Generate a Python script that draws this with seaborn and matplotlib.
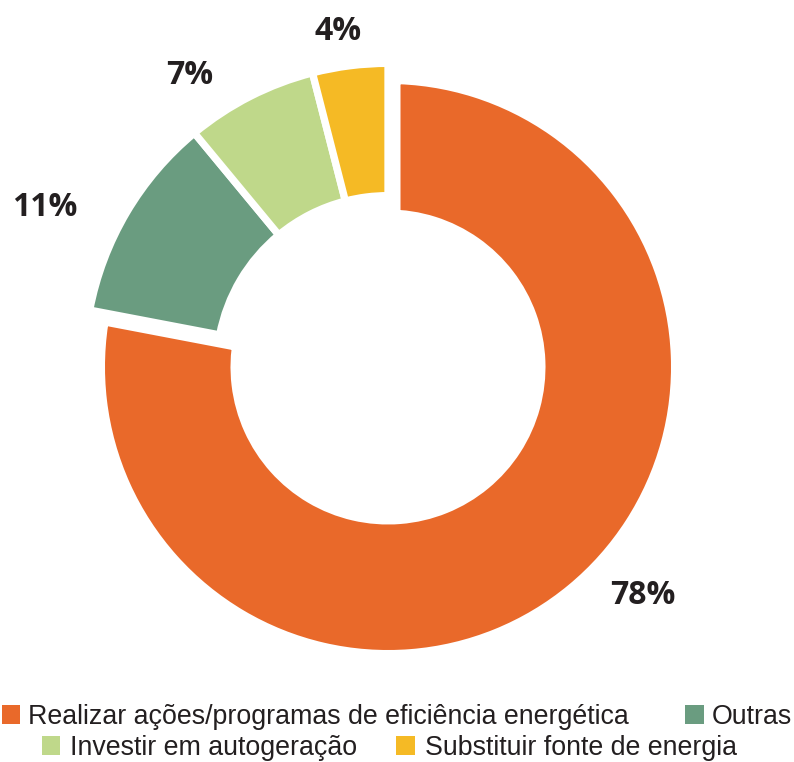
import matplotlib
matplotlib.use("Agg")
import matplotlib.pyplot as plt
from matplotlib.patches import Patch
import seaborn as sns

# ---- data ----
categories = ["Realizar ações/programas de eficiência energética", "Outras",
              "Investir em autogeração", "Substituir fonte de energia"]
values = [78, 11, 7, 4]
colors = ["#E9692A", "#6A9C80", "#BFD88A", "#F5BA25"]
pct_labels = [f"{v}%" for v in values]

sns.set_theme(style="white")
plt.rcParams["font.family"] = ["Liberation Sans", "DejaVu Sans"]

W, H = 794, 762
fig = plt.figure(figsize=(W / 100, H / 100), dpi=100)
ax = fig.add_axes([0, 0, 1, 1])

cx, cy = 388, H - 367
px2pt = 0.72
big_lw, small_lw = 25, 7.3  # px

# main slice ring
w1, _ = ax.pie(values, colors=colors, startangle=90, counterclock=False,
               center=(cx, cy), radius=283 + big_lw / 2,
               wedgeprops=dict(width=(283 - 157.5) + big_lw, edgecolor="white",
                               linewidth=big_lw * px2pt), frame=True)
for i, wd in enumerate(w1):
    if i != 0:
        wd.set_visible(False)

# smaller slices, pushed outwards
w2, _ = ax.pie(values, colors=colors, startangle=90, counterclock=False,
               center=(cx, cy), radius=300 + small_lw / 2,
               wedgeprops=dict(width=(300 - 175) + small_lw, edgecolor="white",
                               linewidth=small_lw * px2pt), frame=True)
w2[0].set_visible(False)
ax.set_xlim(0, W)
ax.set_ylim(0, H)
ax.set_aspect("equal")
ax.axis("off")

# percentage labels
label_pos = [(643, 596), (45, 208), (190, 75), (338, 32)]
for (x, y), t in zip(label_pos, pct_labels):
    ax.text(x, H - y, t, ha="center", va="center", fontsize=23,
            fontweight="bold", color="#231F20", family=["Open Sans", "DejaVu Sans"])

# legend, two centred rows
def handles(idx):
    return [Patch(facecolor=colors[i], edgecolor="none", label=categories[i]) for i in idx]

leg_kw = dict(ncol=2, frameon=False, fontsize=19.3, handlelength=0.68,
              handleheight=0.68, borderpad=0, borderaxespad=0,
              labelcolor="#231F20", loc="center left")
l1 = fig.legend(handles=handles([0, 1]), bbox_to_anchor=(2 / W, 1 - 717 / H),
                columnspacing=2.1, handletextpad=0.3, **leg_kw)
l2 = fig.legend(handles=handles([2, 3]), bbox_to_anchor=(42 / W, 1 - 748 / H),
                columnspacing=1.45, handletextpad=0.38, **leg_kw)

fig.savefig("out.png", dpi=100, facecolor="white")
